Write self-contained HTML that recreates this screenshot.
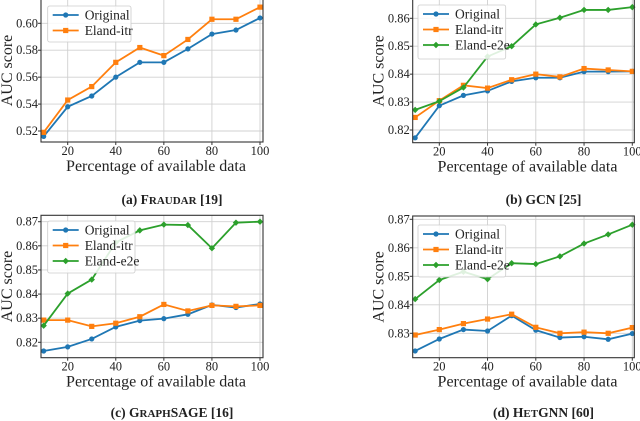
<!DOCTYPE html>
<html><head><meta charset="utf-8">
<style>
html,body{margin:0;padding:0;background:#fff;width:640px;height:421px;overflow:hidden}
svg text{font-family:"Liberation Serif",serif;fill:#222}
</style></head>
<body>
<svg id="fig" width="640" height="421" viewBox="0 0 640 421" xmlns="http://www.w3.org/2000/svg"></svg>
<script>
const xCats=[10,20,30,40,50,60,70,80,90,100];
const xTicks=[20,40,60,80,100];
const aOriginal=[0.516,0.538,0.546,0.560,0.571,0.571,0.581,0.592,0.595,0.604];
const aItr=[0.519,0.543,0.553,0.571,0.582,0.576,0.588,0.603,0.603,0.612];
const aTicks=[0.52,0.54,0.56,0.58,0.60];
const bOriginal=[0.8172,0.8287,0.8324,0.8340,0.8374,0.8387,0.8387,0.8409,0.8409,0.8410];
const bItr=[0.8245,0.8305,0.8360,0.8350,0.8380,0.8400,0.8390,0.8420,0.8415,0.8410];
const bE2e=[0.8272,0.8303,0.8352,0.8463,0.8500,0.8578,0.8602,0.8630,0.8630,0.8640];
const bTicks=[0.82,0.83,0.84,0.85,0.86];
const cOriginal=[0.8164,0.8181,0.8214,0.8264,0.8290,0.8298,0.8316,0.8355,0.8344,0.8359];
const cItr=[0.8292,0.8292,0.8266,0.8279,0.8306,0.8357,0.8330,0.8353,0.8349,0.8353];
const cE2e=[0.8269,0.8402,0.8460,0.8614,0.8664,0.8688,0.8686,0.8590,0.8696,0.8700];
const cTicks=[0.82,0.83,0.84,0.85,0.86,0.87];
const dOriginal=[0.8238,0.8280,0.8313,0.8308,0.8362,0.8311,0.8285,0.8288,0.8279,0.8299];
const dItr=[0.8294,0.8313,0.8334,0.8350,0.8367,0.8321,0.8300,0.8304,0.8300,0.8320];
const dE2e=[0.8420,0.8487,0.8516,0.8490,0.8546,0.8543,0.8570,0.8615,0.8647,0.8681];
const dTicks=[0.83,0.84,0.85,0.86,0.87];
const seriesNames=["Original","Eland-itr","Eland-e2e"];

const NS="http://www.w3.org/2000/svg";
const svg=document.getElementById('fig');
const COL=["#1f77b4","#ff7f0e","#2ca02c"];
function mk(tag,attrs,parent){const e=document.createElementNS(NS,tag);for(const k in attrs)e.setAttribute(k,attrs[k]);(parent||svg).appendChild(e);return e;}
function marker(g,kind,x,y,c){
  if(kind===0){mk('circle',{cx:x,cy:y,r:2.6,fill:c},g);}
  else if(kind===1){mk('rect',{x:x-2.6,y:y-2.6,width:5.2,height:5.2,fill:c},g);}
  else {mk('path',{d:`M${x-3.2},${y}L${x},${y-3.2}L${x+3.2},${y}L${x},${y+3.2}Z`,fill:c},g);}
}
function panel(p){
  const g=mk('g',{});
  
  
  const xs=v=>p.x20+(v-20)*(p.x100-p.x20)/80;
  const ys=v=>p.yA+(v-p.vA)*(p.yB-p.yA)/(p.vB-p.vA);
  xTicks.forEach(t=>{mk('line',{x1:xs(t),x2:xs(t),y1:p.top,y2:p.bot,stroke:'#d0d0d0','stroke-width':0.9},g);});
  p.ticks.forEach(t=>{mk('line',{x1:p.left,x2:p.right,y1:ys(t),y2:ys(t),stroke:'#d0d0d0','stroke-width':0.9},g);});
  p.series.forEach((s,i)=>{
    const sg=mk('g',{},g);
    
    
    mk('polyline',{points:s.map((v,j)=>xs(xCats[j])+','+ys(v)).join(' '),fill:'none',stroke:COL[i],'stroke-width':1.8},sg);
    s.forEach((v,j)=>marker(sg,i,xs(xCats[j]),ys(v),COL[i]));
  });
  mk('rect',{x:p.left,y:p.top,width:p.right-p.left,height:p.bot-p.top,fill:'none',stroke:'#333','stroke-width':1.1},g);
  xTicks.forEach(t=>{const e=mk('text',{x:xs(t),y:p.bot+13,'font-size':12.5,'text-anchor':'middle'},g);e.textContent=t;
    mk('line',{x1:xs(t),x2:xs(t),y1:p.bot,y2:p.bot+3,stroke:'#333'},g);});
  p.ticks.forEach(t=>{const e=mk('text',{x:p.left-3,y:ys(t)+4,'font-size':12.5,'text-anchor':'end'},g);e.textContent=t.toFixed(2);
    mk('line',{x1:p.left-3,x2:p.left,y1:ys(t),y2:ys(t),stroke:'#333'},g);});
  const xt=mk('text',{x:(p.left+p.right)/2+4,y:p.bot+29,'font-size':16,'text-anchor':'middle'},g);
  
  xt.textContent='Percentage of available data';
  const yx=p.left-29,yy=(p.top+p.bot)/2;
  const yt=mk('text',{x:yx,y:yy,'font-size':16,'text-anchor':'middle',transform:`rotate(-90 ${yx} ${yy})`},g);
  
  yt.textContent='AUC score';
  const L=p.leg;
  const lg=mk('g',{},g);
  
  mk('rect',{x:L.x,y:L.y,width:L.w,height:L.h,rx:2,fill:'#fff','fill-opacity':0.85,stroke:'#ccc','stroke-width':0.8},lg);
  p.series.forEach((s,i)=>{
    const cy=L.y+9+i*15.5;
    const eg=mk('g',{},lg);
    
    mk('line',{x1:L.x+5,x2:L.x+31,y1:cy,y2:cy,stroke:COL[i],'stroke-width':1.8},eg);
    marker(eg,i,L.x+18,cy,COL[i]);
    const t=mk('text',{x:L.x+37,y:cy+4.5,'font-size':13.5},eg);t.textContent=seriesNames[i];
  });
  const cap=mk('text',{x:(p.left+p.right)/2+20,y:p.capY,'font-size':13.5,'font-weight':'bold','text-anchor':'middle'},g);
  
  cap.innerHTML=p.caption;
}
panel({name:'panel-fraudar',left:41,right:263,top:-1,bot:142,x20:67.7,x100:260,yA:23.3,vA:0.60,yB:131,vB:0.52,ticks:aTicks,series:[aOriginal,aItr],
  leg:{x:47.7,y:6,w:83.3,h:36},capY:204,caption:'(a) F<tspan font-size="11">RAUDAR</tspan> [19]'});
panel({name:'panel-gcn',left:412.7,right:634.3,top:-1,bot:142.7,x20:439.3,x100:632.3,yA:18.3,vA:0.86,yB:130,vB:0.82,ticks:bTicks,series:[bOriginal,bItr,bE2e],
  leg:{x:418,y:5,w:87.7,h:54},capY:204,caption:'(b) GCN [25]'});
panel({name:'panel-graphsage',left:41,right:263,top:215.3,bot:357.7,x20:67.7,x100:260,yA:221.7,vA:0.87,yB:342.3,vB:0.82,ticks:cTicks,series:[cOriginal,cItr,cE2e],
  leg:{x:47.7,y:221,w:87.3,h:52},capY:417,caption:'(c) G<tspan font-size="11">RAPH</tspan>SAGE [16]'});
panel({name:'panel-hetgnn',left:412.7,right:634.3,top:216,bot:357.7,x20:439.3,x100:632.3,yA:219.3,vA:0.87,yB:333.3,vB:0.83,ticks:dTicks,series:[dOriginal,dItr,dE2e],
  leg:{x:418,y:225,w:87.7,h:52},capY:417,caption:'(d) H<tspan font-size="11">ET</tspan>GNN [60]'});
</script>
</body></html>
